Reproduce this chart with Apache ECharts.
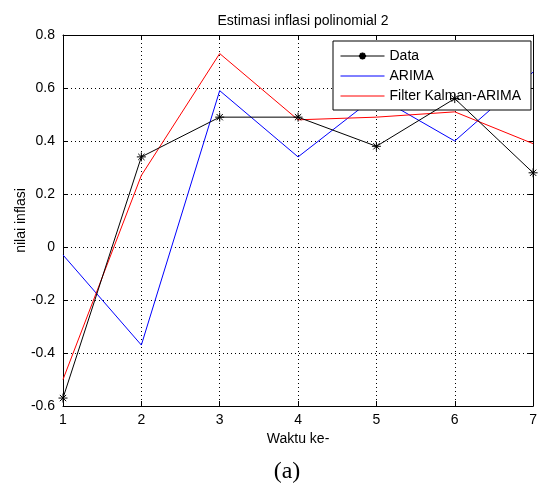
<!DOCTYPE html>
<html><head><meta charset="utf-8">
<script src="https://cdn.jsdelivr.net/npm/echarts@6/dist/echarts.min.js"></script>
<style>html,body{margin:0;padding:0;background:#fff}#c{width:540px;height:487px}</style>
</head><body><div id="c"></div>
<script>
var waktu = [1, 2, 3, 4, 5, 6, 7];
var dataSeries = [-0.57, 0.34, 0.49, 0.49, 0.38, 0.56, 0.28];
var arima = [-0.03, -0.37, 0.59, 0.34, 0.57, 0.40, 0.66];
var kalman = [-0.50, 0.27, 0.73, 0.48, 0.49, 0.51, 0.39];
var seriesNames = ['Data', 'ARIMA', 'Filter Kalman-ARIMA'];

function pairs(v){ return waktu.map(function(x,i){ return [x, v[i]]; }); }
var font = 'Liberation Sans, Arial, sans-serif';
var star = 'path://M0,-5L0,5M-5,0L5,0M-3.5,-3.5L3.5,3.5M-3.5,3.5L3.5,-3.5';

var chart = echarts.init(document.getElementById('c'));
var gridLine = {show:true, lineStyle:{color:'#000', type:[1,3], width:1}};
chart.setOption({
  animation:false,
  backgroundColor:'#fff',
  title:{text:'Estimasi inflasi polinomial 2', left:298, top:9, textAlign:'center',
    textStyle:{fontFamily:font, fontSize:14, fontWeight:'normal', color:'#000'}},
  graphic:[{type:'text', style:{x:287, y:472, align:'center', verticalAlign:'middle', text:'(a)', font:'24px Liberation Serif, Times New Roman, serif', fill:'#000'}}],
  legend:{orient:'vertical', left:333, top:41, padding:[8,10,7,7], itemGap:6, itemWidth:44, itemHeight:9,
    backgroundColor:'#fff', borderColor:'#000', borderWidth:1, borderRadius:0,
    lineStyle:{width:1},
    textStyle:{fontFamily:font, fontSize:14, color:'#000', padding:[0,0,0,0]},
    data:[{name:seriesNames[0]}, {name:seriesNames[1], itemStyle:{opacity:0}}, {name:seriesNames[2], itemStyle:{opacity:0}}]},
  grid:{left:63, right:5, top:35, bottom:81},
  xAxis:[{type:'value', min:1, max:7, interval:1, name:'Waktu ke-', nameLocation:'middle', nameGap:24,
    nameTextStyle:{fontFamily:font, fontSize:14, color:'#000'},
    axisLine:{show:true, onZero:false, lineStyle:{color:'#000'}}, axisTick:{show:true, inside:true, length:5, lineStyle:{color:'#000'}},
    axisLabel:{fontFamily:font, fontSize:14, color:'#000', margin:7}, splitLine:gridLine},
    {type:'value', position:'top', min:1, max:7, interval:1, axisLine:{show:true, onZero:false, lineStyle:{color:'#000'}},
    axisTick:{show:true, inside:true, length:5, lineStyle:{color:'#000'}}, axisLabel:{show:false}, splitLine:{show:false}}],
  yAxis:[{type:'value', min:-0.6, max:0.8, interval:0.2, name:'nilai inflasi', nameLocation:'middle', nameGap:35, nameMoveOverlap:false,
    nameTextStyle:{fontFamily:font, fontSize:14, color:'#000'},
    axisLine:{show:true, onZero:false, lineStyle:{color:'#000'}}, axisTick:{show:true, inside:true, length:5, lineStyle:{color:'#000'}},
    axisLabel:{fontFamily:font, fontSize:14, color:'#000', margin:8, formatter:function(v){return String(Math.round(v*10)/10);}}, splitLine:gridLine},
    {type:'value', position:'right', min:-0.6, max:0.8, interval:0.2, axisLine:{show:true, onZero:false, lineStyle:{color:'#000'}},
    axisTick:{show:true, inside:true, length:5, lineStyle:{color:'#000'}}, axisLabel:{show:false}, splitLine:{show:false}}],
  series:[
    {name:seriesNames[0], type:'line', data:pairs(dataSeries), symbol:star, symbolSize:9, showSymbol:true,
      lineStyle:{color:'#000', width:1}, itemStyle:{color:'#000', borderColor:'#000', borderWidth:1}, z:4},
    {name:seriesNames[1], type:'line', data:pairs(arima), symbol:'none', lineStyle:{color:'#0000ff', width:1}, itemStyle:{color:'#0000ff'}, z:3},
    {name:seriesNames[2], type:'line', data:pairs(kalman), symbol:'none', lineStyle:{color:'#ff0000', width:1}, itemStyle:{color:'#ff0000'}, z:3}
  ]
});
</script></body></html>
